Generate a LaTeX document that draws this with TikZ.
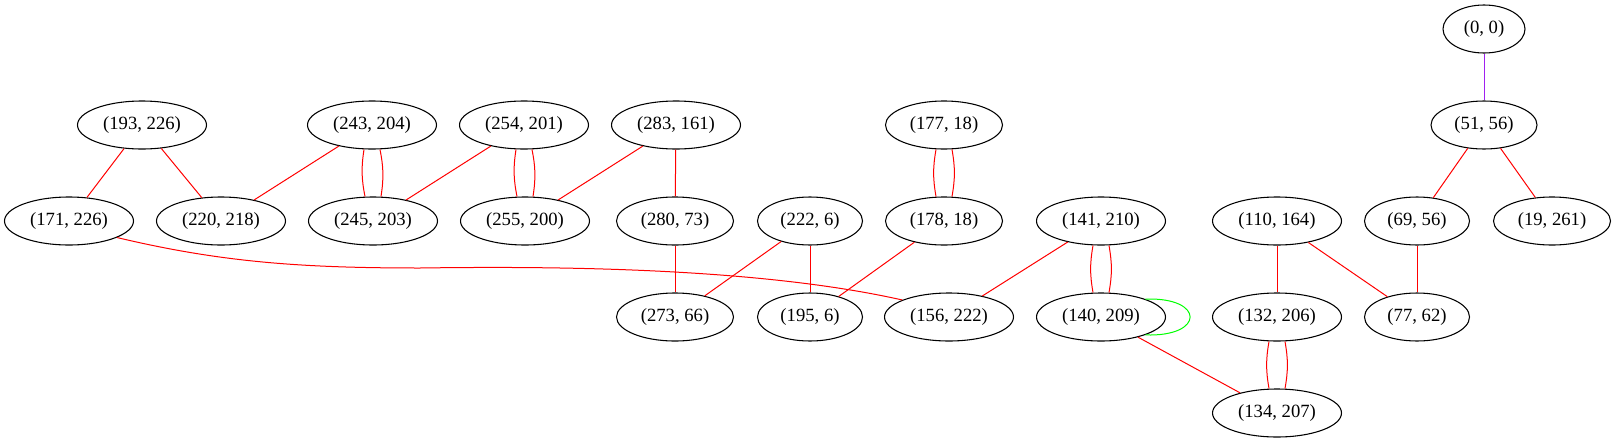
\documentclass[tikz,border=0pt]{standalone}
\usepackage{fontspec}
\setmainfont{Liberation Serif}
\usetikzlibrary{shapes.geometric}
\definecolor{gvpurple}{RGB}{160,32,240}
\definecolor{gvred}{RGB}{255,0,0}
\definecolor{gvgreen}{RGB}{0,255,0}
\begin{document}
\begin{tikzpicture}[x=0.75pt,y=-0.75pt,
  gnode/.style={ellipse,draw=black,line width=0.8pt,minimum height=36pt,inner sep=0pt,
    font=\fontsize{14pt}{16pt}\selectfont},
  wA/.style={gnode,minimum width=96.75pt},
  wB/.style={gnode,minimum width=87.75pt},
  wC/.style={gnode,minimum width=78.75pt},
  wD/.style={gnode,minimum width=61.5pt},
  redge/.style={draw=gvred,line width=0.75pt},
  gedge/.style={draw=gvgreen,line width=0.75pt},
  pedge/.style={draw=gvpurple,line width=0.75pt}]
\useasboundingbox (0,0) rectangle (1616,443);
% row 1
\node[wD] (n00) at (1484,29) {(0, 0)};
% row 2
\node[wA] (n193) at (142,125) {(193, 226)};
\node[wA] (n243) at (372,125) {(243, 204)};
\node[wA] (n254) at (524,125) {(254, 201)};
\node[wA] (n283) at (676,125) {(283, 161)};
\node[wB] (n177) at (944,125) {(177, 18)};
\node[wC,minimum width=79.5pt] (n51) at (1484,125) {(51, 56)};
% row 3
\node[wA] (n171) at (69,221) {(171, 226)};
\node[wA] (n220) at (221,221) {(220, 218)};
\node[wA] (n245) at (373,221) {(245, 203)};
\node[wA] (n255) at (525,221) {(255, 200)};
\node[wB] (n280) at (675,221) {(280, 73)};
\node[wC] (n222) at (810,221) {(222, 6)};
\node[wB] (n178) at (944,221) {(178, 18)};
\node[wA] (n141) at (1101,221) {(141, 210)};
\node[wA] (n110) at (1277,221) {(110, 164)};
\node[wC] (n69) at (1417,221) {(69, 56)};
\node[wB] (n19) at (1552,221) {(19, 261)};
% row 4
\node[wB] (n273) at (675,317) {(273, 66)};
\node[wC] (n195) at (810,317) {(195, 6)};
\node[wA] (n156) at (949,317) {(156, 222)};
\node[wA] (n140) at (1101,317) {(140, 209)};
\node[wA] (n132) at (1277,317) {(132, 206)};
\node[wC] (n77) at (1417,317) {(77, 62)};
% row 5
\node[wA] (n134) at (1277,413) {(134, 207)};

% edges
\draw[pedge] (n00) -- (n51);
\draw[redge] (n51) -- (n69);
\draw[redge] (n51) -- (n19);
\draw[redge] (n69) -- (n77);
\draw[redge] (n110) -- (n77);
\draw[redge] (n110) -- (n132);
\draw[redge] (n193) -- (n171);
\draw[redge] (n193) -- (n220);
\draw[redge] (n243) -- (n220);
\draw[redge] (n254) -- (n245);
\draw[redge] (n283) -- (n255);
\draw[redge] (n283) -- (n280);
\draw[redge] (n280) -- (n273);
\draw[redge] (n222) -- (n273);
\draw[redge] (n222) -- (n195);
\draw[redge] (n178) -- (n195);
\draw[redge] (n141) -- (n156);
\draw[redge] (n140) -- (n134);
% double edges
\draw[redge] ([xshift=-6pt]n243.south) to[bend right=10] ([xshift=-6pt]n245.north);
\draw[redge] ([xshift=6pt]n243.south) to[bend left=10] ([xshift=6pt]n245.north);
\draw[redge] ([xshift=-6pt]n254.south) to[bend right=10] ([xshift=-6pt]n255.north);
\draw[redge] ([xshift=6pt]n254.south) to[bend left=10] ([xshift=6pt]n255.north);
\draw[redge] ([xshift=-6pt]n177.south) to[bend right=10] ([xshift=-6pt]n178.north);
\draw[redge] ([xshift=6pt]n177.south) to[bend left=10] ([xshift=6pt]n178.north);
\draw[redge] ([xshift=-6pt]n141.south) to[bend right=10] ([xshift=-6pt]n140.north);
\draw[redge] ([xshift=6pt]n141.south) to[bend left=10] ([xshift=6pt]n140.north);
\draw[redge] ([xshift=-6pt]n132.south) to[bend right=10] ([xshift=-6pt]n134.north);
\draw[redge] ([xshift=6pt]n132.south) to[bend left=10] ([xshift=6pt]n134.north);
% long curve
\draw[redge] (n171.-19) .. controls (220,262) and (300,268) .. (420,268)
  .. controls (560,266) and (760,268) .. (n156.160);
% self loop
\draw[gedge] (n140.22) .. controls (1205,297) and (1205,337) .. (n140.-22);
\end{tikzpicture}
\end{document}
